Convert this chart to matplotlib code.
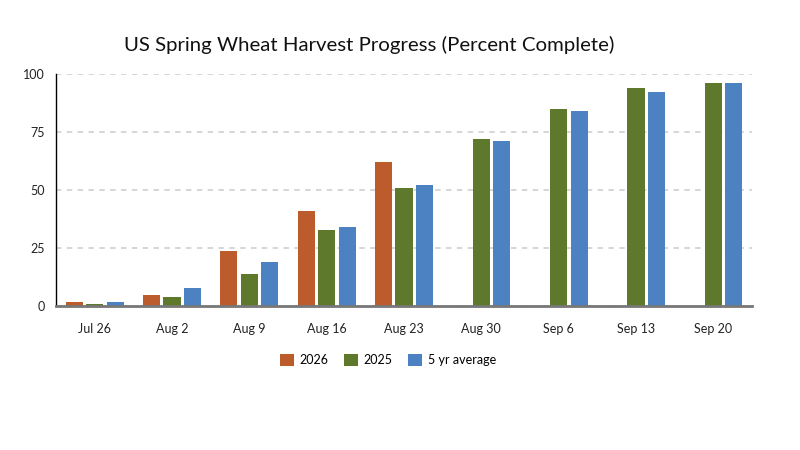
import numpy as np
import matplotlib.pyplot as plt

plt.rcParams['font.family'] = ['Lato', 'DejaVu Sans']

weeks = ["Jul 26", "Aug 2", "Aug 9", "Aug 16", "Aug 23", "Aug 30", "Sep 6", "Sep 13", "Sep 20"]
y2026 = [2, 5, 24, 41, 62, 0, 0, 0, 0]
y2025 = [1, 4, 14, 33, 51, 72, 85, 94, 96]
avg5 = [2, 8, 19, 34, 52, 71, 84, 92, 96]

series = [("2026", y2026, "#BC5B2C"), ("2025", y2025, "#5E782C"), ("5 yr average", avg5, "#4D82C2")]

fig = plt.figure(figsize=(8, 4.5), dpi=100)
ax = fig.add_axes([0.07, 0.319, 0.87, 0.517])

x = np.arange(len(weeks))
step = 0.265
width = 0.22
for k, (name, vals, col) in enumerate(series):
    ax.bar(x + (k - 1) * step, vals, width, color=col, label=name, zorder=3)

ax.set_xlim(-0.5, len(weeks) - 0.5)
ax.set_ylim(0, 100)
ax.set_yticks([0, 25, 50, 75, 100])
ax.set_xticks(x)
ax.set_xticklabels(weeks)
ax.tick_params(axis='both', length=0, labelsize=9, colors='#222222')
ax.tick_params(axis='x', pad=12)
ax.tick_params(axis='y', pad=8)

ax.yaxis.grid(True, color='#d3d3d3', linestyle=(0, (3, 3)), linewidth=1.3, zorder=0)
for s in ['top', 'right']:
    ax.spines[s].set_visible(False)
ax.spines['left'].set_color('black')
ax.spines['left'].set_linewidth(1)
ax.spines['bottom'].set_color('#777777')
ax.spines['bottom'].set_linewidth(2)
ax.spines['bottom'].set_linestyle((0, (2, 1)))
ax.spines['bottom'].set_zorder(4)

fig.text(0.461, 0.9, "US Spring Wheat Harvest Progress (Percent Complete)",
         ha='center', va='center', fontsize=14.7, color='#111111')

fig.legend(loc='center', bbox_to_anchor=(0.485, 0.2), ncol=3, frameon=False,
           fontsize=9, handlelength=1.1, handleheight=1.1, columnspacing=1.2, handletextpad=0.5)

fig.savefig("out.png", dpi=100)
